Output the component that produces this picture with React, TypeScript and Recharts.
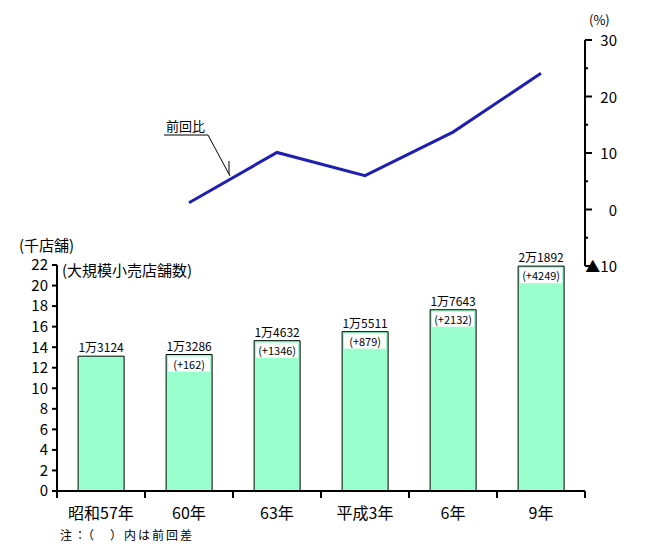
import { Bar, ComposedChart, LabelList, Line, XAxis, YAxis } from 'recharts'

const categories = ['昭和57年', '60年', '63年', '平成3年', '6年', '9年']
const storeCounts = [13.124, 13.286, 14.632, 15.511, 17.643, 21.892]
const countLabels = ['1万3124', '1万3286', '1万4632', '1万5511', '1万7643', '2万1892']
const diffLabels = ['', '(+162)', '(+1346)', '(+879)', '(+2132)', '(+4249)']
const growthRates = [null, 1.2, 10.1, 6.0, 13.7, 24.1]
const countTicks = [0, 2, 4, 6, 8, 10, 12, 14, 16, 18, 20, 22]
const rateTicks = [-10, -5, 0, 5, 10, 15, 20, 25, 30]

const FONT = "'Noto Sans CJK JP', 'Noto Sans', sans-serif"

const data = categories.map((name, i) => ({
    name,
    count: storeCounts[i],
    countLabel: countLabels[i],
    diffLabel: diffLabels[i],
    rate: growthRates[i],
}))

const CategoryTick = (props: any) => {
    const { x, y, payload, index } = props
    const half = payload.offset ?? 44
    return (
        <g>
            <line x1={x - half} x2={x - half} y1={y} y2={y + 7} stroke="#000" strokeWidth={2} />
            {index === categories.length - 1 && (
                <line x1={x + half} x2={x + half} y1={y} y2={y + 7} stroke="#000" strokeWidth={2} />
            )}
            <text x={x} y={y + 28} textAnchor="middle" fontSize={16} fontFamily={FONT} fill="#000">
                {payload.value}
            </text>
        </g>
    )
}

const RateTick = (props: any) => {
    const { x, y, payload } = props
    const v = payload.value
    const axisX = x - 8
    const major = v % 10 === 0
    return (
        <g>
            <line x1={axisX} x2={axisX + (major ? 7 : 3)} y1={y} y2={y} stroke="#000" strokeWidth={2} />
            {major && (
                <text x={axisX + 32} y={y + 6} textAnchor="end" fontSize={15} fontFamily={FONT} fill="#000">
                    {v === -10 ? '▲10' : v}
                </text>
            )}
        </g>
    )
}

const DiffLabel = (props: any) => {
    const { x, y, width, value } = props
    if (!value) return null
    return (
        <g>
            <rect x={x + 2} y={y + 2} width={width - 4} height={15} fill="#fff" />
            <text x={x + width / 2} y={y + 14} textAnchor="middle" fontSize={11} fontFamily={FONT} fill="#000">
                {value}
            </text>
        </g>
    )
}

export default function App() {
    return (
        <div style={{ position: 'absolute', left: 0, top: 0, width: 650, height: 550, background: '#fff' }}>
            <div style={{ position: 'absolute', left: 0, top: 0 }}>
                <ComposedChart width={650} height={550} data={data} margin={{ top: 265, right: 65, bottom: 29, left: 7 }} barCategoryGap="24%">
                    <XAxis
                        dataKey="name"
                        tick={<CategoryTick />}
                        tickLine={false}
                        tickSize={0}
                        tickMargin={0}
                        height={30}
                        interval={0}
                        axisLine={{ stroke: '#000', strokeWidth: 2 }}
                    />
                    <YAxis
                        domain={[0, 22]}
                        ticks={countTicks}
                        interval={0}
                        width={50}
                        tickSize={5}
                        tickMargin={4}
                        axisLine={{ stroke: '#000', strokeWidth: 2 }}
                        tickLine={{ stroke: '#000', strokeWidth: 2 }}
                        tick={{ fill: '#000', fontSize: 15, fontFamily: FONT }}
                    />
                    <Bar dataKey="count" fill="#99ffcc" stroke="#000" strokeWidth={1} isAnimationActive={false}>
                        <LabelList dataKey="countLabel" position="top" offset={4} fontSize={12} fontFamily={FONT} fill="#000" />
                        <LabelList dataKey="diffLabel" content={<DiffLabel />} />
                    </Bar>
                </ComposedChart>
            </div>
            <div style={{ position: 'absolute', left: 0, top: 0 }}>
                <ComposedChart width={650} height={550} data={data} margin={{ top: 40, right: 5, bottom: 284, left: 57 }}>
                    <XAxis dataKey="name" scale="band" hide />
                    <YAxis
                        orientation="right"
                        domain={[-10, 30]}
                        ticks={rateTicks}
                        interval={0}
                        width={60}
                        tickSize={6}
                        tickMargin={2}
                        tickLine={false}
                        axisLine={{ stroke: '#000', strokeWidth: 2 }}
                        tick={<RateTick />}
                    />
                    <Line dataKey="rate" stroke="#1f1fb0" strokeWidth={3} dot={false} isAnimationActive={false} />
                </ComposedChart>
            </div>
            <svg width={650} height={550} style={{ position: 'absolute', left: 0, top: 0, pointerEvents: 'none' }}>
                <g fontFamily={FONT} fill="#000">
                    <text x={19} y={251} fontSize={15}>(千店舗)</text>
                    <text x={62} y={276} fontSize={15}>(大規模小売店舗数)</text>
                    <text x={589} y={25} fontSize={13}>(%)</text>
                    <text x={166} y={131} fontSize={13}>前回比</text>
                    <text x={60} y={540} fontSize={12} letterSpacing={2}>注：（　）内は前回差</text>
                </g>
                <polyline points="164,135 208,135 230,176" fill="none" stroke="#000" strokeWidth={1} />
                <line x1={229} x2={229} y1={161} y2={174} stroke="#000" strokeWidth={1} />
            </svg>
        </div>
    )
}
